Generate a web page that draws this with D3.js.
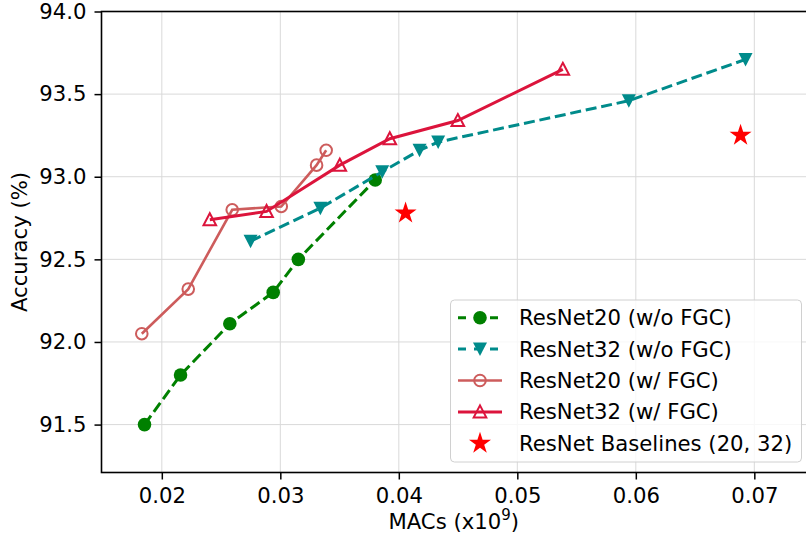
<!DOCTYPE html>
<html><head><meta charset="utf-8">
<script src="https://cdn.jsdelivr.net/npm/d3@7"></script>
<style>body{margin:0;background:#fff}svg{display:block;font-family:"DejaVu Sans",sans-serif}</style>
</head><body><svg id="c" width="806" height="542"></svg>
<script>
const r20_wo_x = [0.01854, 0.02158, 0.02574, 0.02940, 0.03152, 0.03801];
const r20_wo_y = [91.50, 91.80, 92.11, 92.30, 92.50, 92.98];
const r32_wo_x = [0.02749, 0.03338, 0.03860, 0.04175, 0.04332, 0.05941, 0.06926];
const r32_wo_y = [92.61, 92.81, 93.03, 93.16, 93.21, 93.46, 93.71];
const r20_w_x = [0.01831, 0.02223, 0.02594, 0.03008, 0.03306, 0.03387];
const r20_w_y = [92.05, 92.32, 92.80, 92.82, 93.07, 93.16];
const r32_w_x = [0.02405, 0.02884, 0.03502, 0.03924, 0.04498, 0.05384];
const r32_w_y = [92.74, 92.79, 93.07, 93.23, 93.34, 93.65];
const base_x = [0.04057, 0.06884];
const base_y = [92.78, 93.25];
const xTicks = [0.02, 0.03, 0.04, 0.05, 0.06, 0.07];
const yTicks = [91.5, 92.0, 92.5, 93.0, 93.5, 94.0];
const labels = ["ResNet20 (w/o FGC)", "ResNet32 (w/o FGC)", "ResNet20 (w/ FGC)", "ResNet32 (w/ FGC)", "ResNet Baselines (20, 32)"];

const L = 101.5, R = 808, T = 11.5, B = 472.5;
const x = d3.scaleLinear().domain([0.01491, 0.01491 + (R - L) / 11850]).range([L, R]);
const y = d3.scaleLinear().domain([91.21, 94.0]).range([B, T]);
const svg = d3.select("#c");
const fs = 21.2;

// grid
svg.append("g").selectAll("line").data(xTicks).join("line")
  .attr("x1", d => x(d)).attr("x2", d => x(d)).attr("y1", T).attr("y2", B)
  .attr("stroke", "#d9d9d9").attr("stroke-width", 1);
svg.append("g").selectAll("line").data(yTicks).join("line")
  .attr("x1", L).attr("x2", R).attr("y1", d => y(d)).attr("y2", d => y(d))
  .attr("stroke", "#d9d9d9").attr("stroke-width", 1);

// axes
const xa = svg.append("g").attr("transform", `translate(0,${B})`)
  .call(d3.axisBottom(x).tickValues(xTicks).tickFormat(d3.format(".2f")).tickSizeOuter(0).tickSize(7).tickPadding(8));
const ya = svg.append("g").attr("transform", `translate(${L},0)`)
  .call(d3.axisLeft(y).tickValues(yTicks).tickFormat(d3.format(".1f")).tickSizeOuter(0).tickSize(7).tickPadding(8));
[xa, ya].forEach(a => {
  a.selectAll("text").attr("font-size", fs).attr("font-family", "DejaVu Sans").attr("fill", "#000");
  a.selectAll("line").attr("stroke", "#000").attr("stroke-width", 1.5);
  a.select(".domain").remove();
});
// spines
svg.append("rect").attr("x", L).attr("y", T).attr("width", R - L).attr("height", B - T)
  .attr("fill", "none").attr("stroke", "#000").attr("stroke-width", 1.6);

// labels
const xl = svg.append("text").attr("x", (L + 806) / 2).attr("y", 529).attr("text-anchor", "middle").attr("font-size", fs);
xl.append("tspan").text("MACs (x10");
xl.append("tspan").attr("dy", -9).attr("font-size", 15).text("9");
xl.append("tspan").attr("dy", 9).text(")");
svg.append("text").attr("transform", `translate(27,${(T + B) / 2}) rotate(-90)`).attr("text-anchor", "middle")
  .attr("font-size", fs).text("Accuracy (%)");

const line = (xs, ys) => d3.line()(xs.map((v, i) => [x(v), y(ys[i])]));
const sym = (type, size) => d3.symbol().type(type).size(size)();

const series = [
  {xs: r20_wo_x, ys: r20_wo_y, color: "#008000", dash: "11,4.8", lw: 3, marker: "circle"},
  {xs: r32_wo_x, ys: r32_wo_y, color: "#008b8b", dash: "11,4.8", lw: 3, marker: "down"},
  {xs: r20_w_x, ys: r20_w_y, color: "#cd5c5c", dash: null, lw: 2.6, marker: "ocircle"},
  {xs: r32_w_x, ys: r32_w_y, color: "#dc143c", dash: null, lw: 3, marker: "up"},
];

function drawMarker(g, kind, color, cx, cy) {
  if (kind === "circle") g.append("circle").attr("cx", cx).attr("cy", cy).attr("r", 6.8).attr("fill", color);
  else if (kind === "ocircle") g.append("circle").attr("cx", cx).attr("cy", cy).attr("r", 5.8).attr("fill", "none").attr("stroke", color).attr("stroke-width", 2);
  else if (kind === "down") g.append("path").attr("d", `M${cx - 7},${cy - 6.5}L${cx + 7},${cy - 6.5}L${cx},${cy + 7}Z`).attr("fill", color);
  else if (kind === "up") g.append("path").attr("d", `M${cx},${cy - 6.5}L${cx + 6.3},${cy + 5.5}L${cx - 6.3},${cy + 5.5}Z`).attr("fill", "none").attr("stroke", color).attr("stroke-width", 2);
  else if (kind === "star") g.append("path").attr("d", sym(d3.symbolStar, 150)).attr("transform", `translate(${cx},${cy})`).attr("fill", color);
}

series.forEach(s => {
  const g = svg.append("g");
  g.append("path").attr("d", line(s.xs, s.ys)).attr("fill", "none").attr("stroke", s.color)
    .attr("stroke-width", s.lw).attr("stroke-dasharray", s.dash);
  s.xs.forEach((v, i) => drawMarker(g, s.marker, s.color, x(v), y(s.ys[i])));
});
const gs = svg.append("g");
base_x.forEach((v, i) => drawMarker(gs, "star", "#ff0000", x(v), y(base_y[i])));

// legend
const lg = svg.append("g");
lg.append("rect").attr("x", 450.5).attr("y", 300).attr("width", 351).attr("height", 162).attr("rx", 4)
  .attr("fill", "#fff").attr("fill-opacity", 0.8).attr("stroke", "#d0d0d0").attr("stroke-width", 1);
const legendItems = [...series.map(s => ({color: s.color, dash: s.dash, lw: s.lw, marker: s.marker})), {color: "#ff0000", dash: null, lw: 0, marker: "star"}];
legendItems.forEach((s, i) => {
  const cy = 317.7 + i * 31.4;
  if (s.lw) lg.append("line").attr("x1", 458).attr("x2", 502).attr("y1", cy).attr("y2", cy)
    .attr("stroke", s.color).attr("stroke-width", s.lw).attr("stroke-dasharray", s.dash ? "8,8" : null)
    .attr("stroke-dashoffset", s.dash ? 0 : null);
  drawMarker(lg, s.marker, s.color, 480, cy);
  lg.append("text").attr("x", 519).attr("y", cy).attr("dy", "0.35em").attr("font-size", fs).text(labels[i]);
});
</script></body></html>
